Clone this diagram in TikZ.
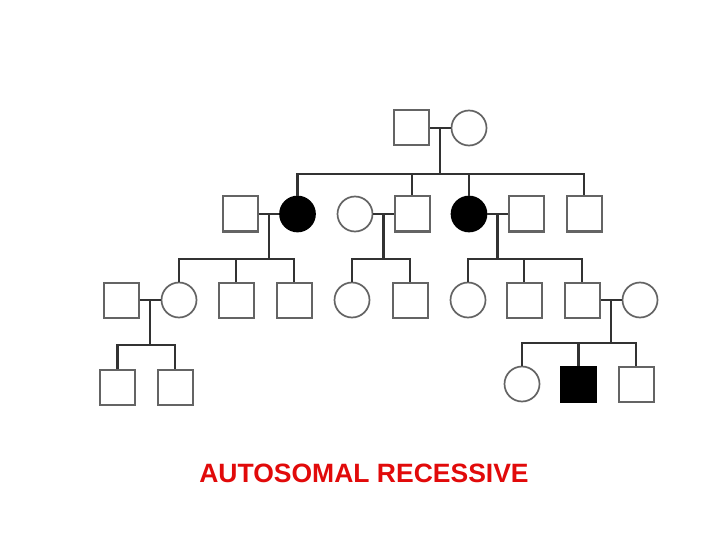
\documentclass[tikz,border=0pt]{standalone}
\usepackage{fontspec}
\setmainfont{Liberation Sans}
\usepackage{xcolor}
\usepackage{tikz}
\usetikzlibrary{calc}
\definecolor{pedgray}{RGB}{100,100,100}
\definecolor{linedark}{RGB}{50,50,50}
\definecolor{titlered}{RGB}{225,10,10}

\begin{document}
\begin{tikzpicture}[x=1pt, y=-1pt,
    male/.style={rectangle, draw=pedgray, line width=2pt, fill=white, minimum size=35pt, inner sep=0pt},
    female/.style={circle, draw=pedgray, line width=1.7pt, fill=white, minimum size=35pt, inner sep=0pt},
    affected/.style={fill=black, draw=black},
    link/.style={linedark, line width=2.2pt}]
    \useasboundingbox (0,0) rectangle (720,540);

    % ==== Generation I ====
    \node[male] (g1m) at (411.5,128) {};
    \node[female] (g1f) at (469,128) {};
    \coordinate (b1) at ($(g1m)!0.5!(g1f) + (0,46)$);

    % ==== Generation II ====
    \node[male] (ii1) at (240,214) {};
    \node[female, affected] (ii2) at (297.5,214) {};
    \node[female] (ii3) at (355,214) {};
    \node[male] (ii4) at (412,214) {};
    \node[female, affected] (ii5) at (469,214) {};
    \node[male] (ii6) at (526,214) {};
    \node[male] (ii7) at (584,214) {};
    \coordinate (b2) at ($(ii1)!0.5!(ii2) + (0,45)$);
    \coordinate (b3) at ($(ii3)!0.5!(ii4) + (0,45)$);
    \coordinate (b4) at ($(ii5)!0.5!(ii6) + (0,45)$);

    % ==== Generation III ====
    \node[male] (iii1) at (121,300) {};
    \node[female] (iii2) at (179,300) {};
    \node[male] (iii3) at (236,300) {};
    \node[male] (iii4) at (294,300) {};
    \node[female] (iii5) at (352,300) {};
    \node[male] (iii6) at (410,300) {};
    \node[female] (iii7) at (468,300) {};
    \node[male] (iii8) at (524,300) {};
    \node[male] (iii9) at (582,300) {};
    \node[female] (iii10) at (640,300) {};
    \coordinate (b5) at ($(iii1)!0.5!(iii2) + (0,45)$);
    \coordinate (b6) at ($(iii9)!0.5!(iii10) + (0,43)$);

    % ==== Generation IV ====
    \node[male] (iv1) at (117.5,387) {};
    \node[male] (iv2) at (175,387) {};
    \node[female] (iv3) at (522,384) {};
    \node[male, affected] (iv4) at (578.5,384) {};
    \node[male] (iv5) at (636,384) {};

    % Marriage lines and descent
    \draw[link] (g1m) -- (g1f);
    \draw[link] ($(g1m)!0.5!(g1f)$) -- (b1);
    \draw[link] (ii1) -- (ii2);
    \draw[link] ($(ii1)!0.5!(ii2)$) -- (b2);
    \draw[link] (ii3) -- (ii4);
    \draw[link] ($(ii3)!0.5!(ii4)$) -- (b3);
    \draw[link] (ii5) -- (ii6);
    \draw[link] ($(ii5)!0.5!(ii6)$) -- (b4);
    \draw[link] (iii1) -- (iii2);
    \draw[link] ($(iii1)!0.5!(iii2)$) -- (b5);
    \draw[link] (iii9) -- (iii10);
    \draw[link] ($(iii9)!0.5!(iii10)$) -- (b6);

    % Sibships
    \draw[link] (b1) -| (ii2);
    \draw[link] (b1) -| (ii4);
    \draw[link] (b1) -| (ii5);
    \draw[link] (b1) -| (ii7);
    \draw[link] (b2) -| (iii2);
    \draw[link] (b2) -| (iii3);
    \draw[link] (b2) -| (iii4);
    \draw[link] (b3) -| (iii5);
    \draw[link] (b3) -| (iii6);
    \draw[link] (b4) -| (iii7);
    \draw[link] (b4) -| (iii8);
    \draw[link] (b4) -| (iii9);
    \draw[link] (b5) -| (iv1);
    \draw[link] (b5) -| (iv2);
    \draw[link] (b6) -| (iv3);
    \draw[link] (b6) -| (iv4);
    \draw[link] (b6) -| (iv5);

    % Title
    \node[titlered, font=\fontsize{26.5}{31}\selectfont\bfseries] (title) at (364,473) {AUTOSOMAL RECESSIVE};
\end{tikzpicture}
\end{document}
